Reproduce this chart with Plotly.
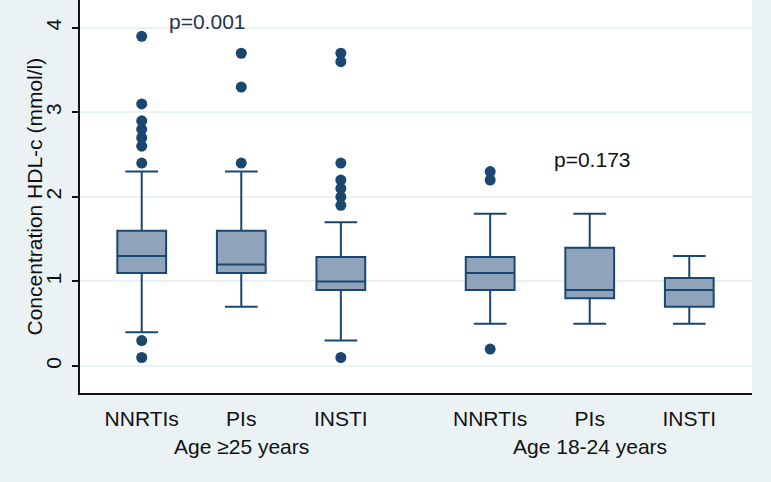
import plotly.graph_objects as go

# ---- data ----
categories = ["NNRTIs", "PIs", "INSTI", "NNRTIs", "PIs", "INSTI"]
positions = [0, 1, 2, 3.5, 4.5, 5.5]
groups = ["Age ≥25 years", "Age 18-24 years"]
group_centers = [1, 4.5]

q1 = [1.1, 1.1, 0.9, 0.9, 0.8, 0.7]
median = [1.3, 1.2, 1.0, 1.1, 0.9, 0.9]
q3 = [1.6, 1.6, 1.29, 1.29, 1.4, 1.04]
lower_whisker = [0.4, 0.7, 0.3, 0.5, 0.5, 0.5]
upper_whisker = [2.3, 2.3, 1.7, 1.8, 1.8, 1.3]
outliers = [
    [0.1, 0.3, 2.4, 2.6, 2.7, 2.8, 2.9, 3.1, 3.9],
    [2.4, 3.3, 3.7],
    [0.1, 1.9, 2.0, 2.1, 2.2, 2.4, 3.6, 3.7],
    [0.2, 2.2, 2.3],
    [],
    [],
]
pvalues = ["p=0.001", "p=0.173"]
pvalue_pos = [(0.66, 4.07), (4.53, 2.44)]
pvalue_colors = ["#1f3450", "#111111"]
y_title = "Concentration HDL-c (mmol/l)"

NAVY = "#1A476F"
FILL = "#8FA4BA"
BG = "#EAF2F3"
FONT = "Liberation Sans, Arial, sans-serif"

fig = go.Figure()
fig.add_trace(go.Box(
    x=positions, q1=q1, median=median, q3=q3,
    lowerfence=lower_whisker, upperfence=upper_whisker,
    fillcolor=FILL, line=dict(color=NAVY, width=2),
    width=0.49, whiskerwidth=0.67, boxpoints=False,
    showlegend=False, hoverinfo="skip",
))
ox, oy = [], []
for p, outs in zip(positions, outliers):
    for v in outs:
        ox.append(p)
        oy.append(v)
fig.add_trace(go.Scatter(
    x=ox, y=oy, mode="markers",
    marker=dict(color=NAVY, size=11, line=dict(width=0)),
    showlegend=False, hoverinfo="skip",
))

annotations = []
for txt, (px, py), c in zip(pvalues, pvalue_pos, pvalue_colors):
    annotations.append(dict(x=px, y=py, xref="x", yref="y", text=txt,
                            showarrow=False, font=dict(size=21, color=c, family=FONT)))
for g, gc in zip(groups, group_centers):
    annotations.append(dict(x=gc, y=-0.137, xref="x", yref="paper", text=g,
                            showarrow=False, yanchor="middle",
                            font=dict(size=21, color="#111111", family=FONT)))
annotations.append(dict(x=-0.067, y=0.5, xref="paper", yref="paper", text=y_title,
                        textangle=-90, showarrow=False, xanchor="center", yanchor="middle",
                        font=dict(size=21, color="#111111", family=FONT)))

fig.update_layout(
    width=771, height=482,
    margin=dict(l=80, r=19, t=0, b=89),
    paper_bgcolor=BG, plot_bgcolor="white",
    font=dict(family=FONT, size=21, color="#111111"),
    annotations=annotations,
    xaxis=dict(
        range=[-0.62, 6.13], tickmode="array", tickvals=positions, ticktext=categories,
        showgrid=False, zeroline=False, showline=True, linecolor="#111111", linewidth=1.5,
        ticks="", tickfont=dict(size=21), ticklabelstandoff=6,
    ),
    yaxis=dict(
        range=[-0.32, 4.33], tickmode="array", tickvals=[0, 1, 2, 3, 4],
        ticktext=["0", "1", "2", "3", "4"], tickangle=-90,
        showgrid=True, gridcolor=BG, gridwidth=1.5, zeroline=False,
        showline=True, linecolor="#111111", linewidth=1.5,
        ticks="outside", ticklen=6, tickcolor="#111111", tickwidth=1.5,
        tickfont=dict(size=21), ticklabelstandoff=3,
    ),
)
fig.write_html("out.html", config={"displayModeBar": False},
               post_script="document.body.style.margin='0';document.body.style.background='#EAF2F3';")
